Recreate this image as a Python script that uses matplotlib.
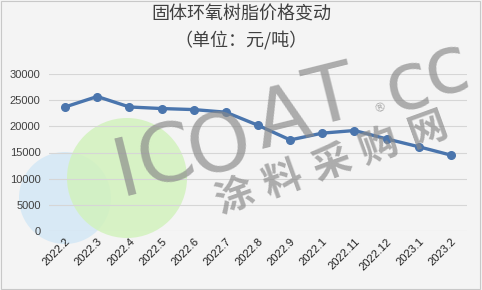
import matplotlib
matplotlib.use('Agg')
from matplotlib import pyplot as plt
from matplotlib.patches import Ellipse, Rectangle

plt.rcParams['font.family'] = ['Noto Sans CJK SC', 'DejaVu Sans']

months = ['2022.2', '2022.3', '2022.4', '2022.5', '2022.6', '2022.7', '2022.8',
          '2022.9', '2022.1', '2022.11', '2022.12', '2023.1', '2023.2']
prices = [23700, 25700, 23700, 23400, 23200, 22700, 20200,
          17400, 18700, 19200, 17600, 16100, 14500]
y_ticks = [0, 5000, 10000, 15000, 20000, 25000, 30000]

W, H = 482, 290
fig = plt.figure(figsize=(W / 100, H / 100), dpi=100)
fig.patch.set_facecolor('#f4f4f4')


def px(x, y):
    # pixel position (from top-left) -> figure fraction
    return x / W, 1 - y / H


# frame round the chart area
fig.patches.append(Rectangle((0.002, 0.003), 0.994, 0.994, transform=fig.transFigure,
                             fill=False, edgecolor='#c8c8c8', linewidth=0.8))

# watermark circles (behind the plot)
for (cx, cy, r, col) in [(65, 198, 46, '#d3e8f6'), (127, 178, 60, '#d2f2bd')]:
    fig.patches.append(Ellipse(px(cx, cy), 2 * r / W, 2 * r / H, transform=fig.transFigure,
                               facecolor=col, edgecolor='none', alpha=0.85, zorder=0))

ax = fig.add_axes([49 / W, 1 - 231 / H, 418 / W, (231 - 74) / H])
ax.set_facecolor('none')
ax.set_zorder(1)

x = range(len(months))
ax.plot(x, prices, color='#4a75ad', linewidth=2.4, marker='o', markersize=5.5, zorder=3)

ax.set_xlim(-0.5, len(months) - 0.5)
ax.set_ylim(0, 30000)
ax.set_yticks(y_ticks)
ax.set_yticklabels([str(v) for v in y_ticks], fontsize=8, color='#404040',
                   family=['Liberation Sans'])
ax.set_xticks(list(x))
ax.set_xticklabels(months, rotation=45, ha='right', va='top', fontsize=8,
                   color='#202020', family=['Liberation Sans'], rotation_mode='anchor')
ax.tick_params(length=0, pad=6)
ax.tick_params(axis='x', pad=4)
ax.grid(axis='y', color='#d6d6d6', linewidth=0.8)
for s in ax.spines.values():
    s.set_visible(False)

fig.text(0.5, 1 - 15 / H, '固体环氧树脂价格变动', ha='center', va='center',
         fontsize=13, color='#404040')
fig.text(0.5, 1 - 40 / H, '（单位：元/吨）', ha='center', va='center',
         fontsize=13, color='#404040')

# watermark texts over the plot, semi-transparent, one glyph at a time
wm = dict(color='#8a8a8a', alpha=0.68, zorder=5, ha='center', va='center')
logo = [('I', 126, 172), ('C', 166, 159), ('O', 220, 148), ('A', 283, 121),
        ('T', 331, 100), ('c', 407, 86), ('c', 446, 70)]
for ch, gx, gy in logo:
    fig.text(*px(gx, gy), ch, rotation=14, fontsize=58, family=['DejaVu Sans'], **wm)
fig.text(*px(380, 108), '®', rotation=20, fontsize=9, family=['DejaVu Sans'], **wm)
for i, ch in enumerate('涂料采购网'):
    gx = 234 + i * 48.5
    gy = 197 - i * 16.8
    fig.text(*px(gx, gy), ch, rotation=20, fontsize=28, fontweight='bold', **wm)

fig.savefig('out.png', dpi=100, facecolor=fig.get_facecolor())
